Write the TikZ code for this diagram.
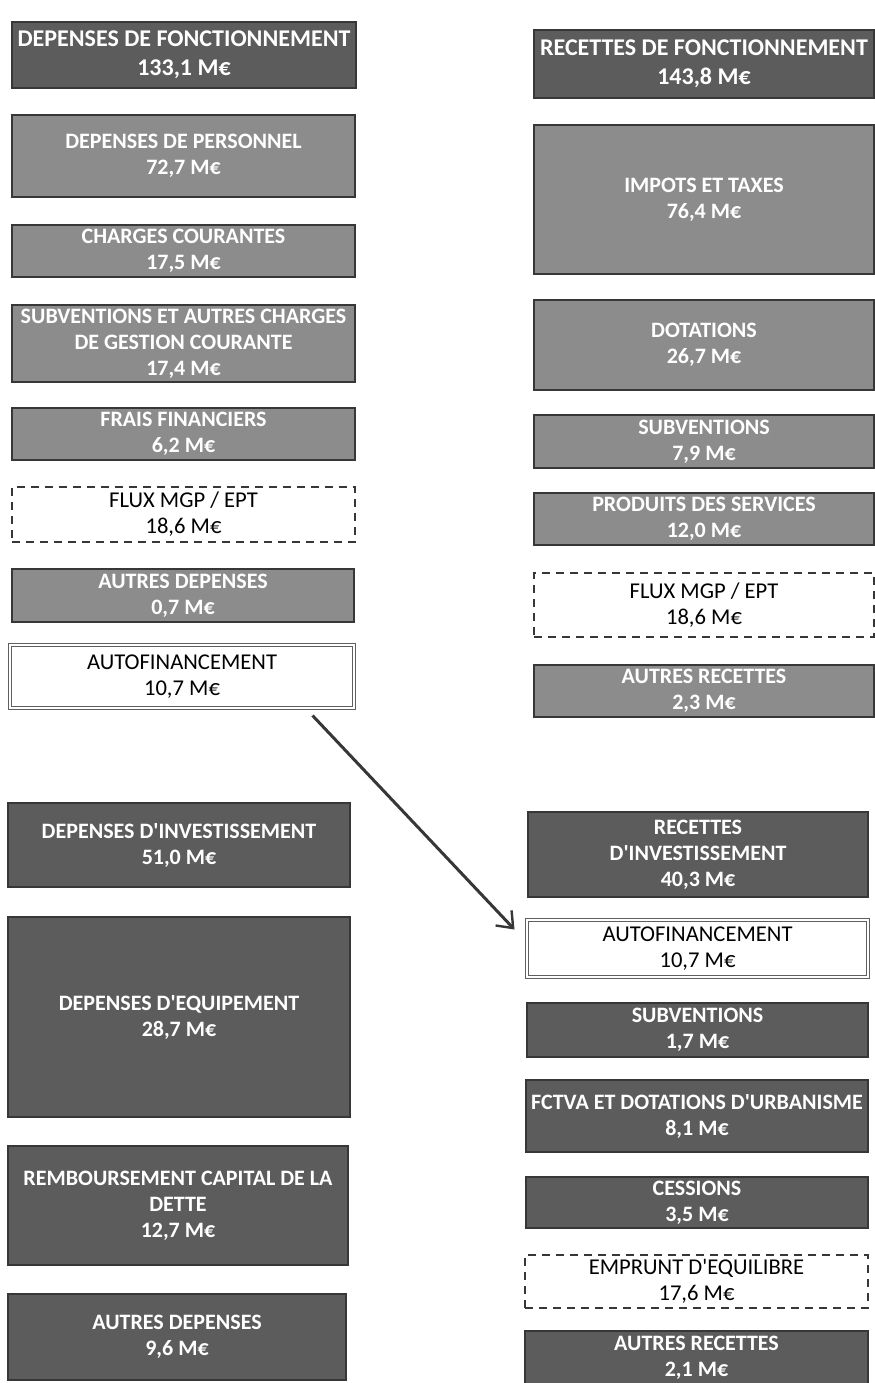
\documentclass[tikz,border=0pt]{standalone}
\usepackage{fontspec}
\setmainfont{Carlito}
\usepackage{tikz}
\usetikzlibrary{arrows.meta,positioning}
\definecolor{fonce}{RGB}{92,92,92}
\definecolor{clair}{RGB}{140,140,140}
\definecolor{trait}{RGB}{55,55,55}
\newcommand{\ap}{\textquotesingle}
\tikzset{font=\fontsize{11}{13}\selectfont}
\tikzstyle{boite}=[rectangle,draw=trait,line width=0.6pt,inner sep=0pt,align=center]
\tikzstyle{titre}=[boite,fill=fonce,text=white,font=\fontsize{12}{14.5}\selectfont\bfseries]
\tikzstyle{poste}=[boite,fill=clair,text=white,font=\fontsize{11}{13}\selectfont\bfseries]
\tikzstyle{invest}=[boite,fill=fonce,text=white,font=\fontsize{11}{13}\selectfont\bfseries]
\tikzstyle{flux}=[boite,dashed,dash pattern=on 4pt off 3pt,fill=white,font=\fontsize{11.3}{13}\selectfont]
\tikzstyle{autof}=[boite,draw=trait!80,double=white,double distance=1.4pt,line width=0.5pt,fill=white,font=\fontsize{11.3}{13}\selectfont]
\begin{document}
\begin{tikzpicture}[x=0.5pt,y=-0.5pt]
\useasboundingbox (0,0) rectangle (874,1383);
% fonctionnement : depenses
\node[titre,minimum width=172pt,minimum height=33pt] (dF) at (184,55) {DEPENSES DE FONCTIONNEMENT\\133,1 M€};
\node[poste,minimum width=171.5pt,minimum height=41pt] (dP) at (183.5,156) {DEPENSES DE PERSONNEL\\72,7 M€};
\node[poste,minimum width=171.5pt,minimum height=26pt] (dC) at (183.5,251) {CHARGES COURANTES\\17,5 M€};
\node[poste,minimum width=171.5pt,minimum height=38.5pt] (dS) at (183.5,343.5) {SUBVENTIONS ET AUTRES CHARGES\\DE GESTION COURANTE\\17,4 M€};
\node[poste,minimum width=171.5pt,minimum height=26pt] (dFF) at (183.5,434) {FRAIS FINANCIERS\\6,2 M€};
\node[flux,minimum width=171.5pt,minimum height=27.5pt] (dFlux) at (183.5,514.5) {FLUX MGP / EPT\\18,6 M€};
\node[poste,minimum width=171pt,minimum height=26.5pt] (dA) at (183,595.5) {AUTRES DEPENSES\\0,7 M€};
\node[autof,minimum width=172pt,minimum height=31.5pt] (autoF) at (182,676.5) {AUTOFINANCEMENT\\10,7 M€};
% fonctionnement : recettes
\node[titre,minimum width=170pt,minimum height=34pt] (rF) at (704,64) {RECETTES DE FONCTIONNEMENT\\143,8 M€};
\node[poste,minimum width=170pt,minimum height=74.5pt] (rI) at (704,199.5) {IMPOTS ET TAXES\\76,4 M€};
\node[poste,minimum width=170pt,minimum height=45pt] (rD) at (704,345) {DOTATIONS\\26,7 M€};
\node[poste,minimum width=170pt,minimum height=26.5pt] (rS) at (704,441.5) {SUBVENTIONS\\7,9 M€};
\node[poste,minimum width=170pt,minimum height=26pt] (rP) at (704,519) {PRODUITS DES SERVICES\\12,0 M€};
\node[flux,minimum width=170pt,minimum height=32pt] (rFlux) at (704,605) {FLUX MGP / EPT\\18,6 M€};
\node[poste,minimum width=170pt,minimum height=26pt] (rA) at (704,691) {AUTRES RECETTES\\2,3 M€};
% investissement : depenses
\node[invest,minimum width=171pt,minimum height=42pt] (iD) at (179,845) {DEPENSES D\ap INVESTISSEMENT\\51,0 M€};
\node[invest,minimum width=171pt,minimum height=100pt] (iE) at (179,1017) {DEPENSES D\ap EQUIPEMENT\\28,7 M€};
\node[invest,minimum width=170pt,minimum height=59.5pt] (iR) at (178,1205.5) {REMBOURSEMENT CAPITAL DE LA\\DETTE\\12,7 M€};
\node[invest,minimum width=169pt,minimum height=43pt] (iA) at (177,1337) {AUTRES DEPENSES\\9,6 M€};
% investissement : recettes
\node[invest,minimum width=170pt,minimum height=42.5pt] (jR) at (698,854.5) {RECETTES\\D\ap INVESTISSEMENT\\40,3 M€};
\node[autof,minimum width=170.5pt,minimum height=28.5pt] (autoI) at (697.5,948.5) {AUTOFINANCEMENT\\10,7 M€};
\node[invest,minimum width=170.5pt,minimum height=27pt] (jS) at (697.5,1030) {SUBVENTIONS\\1,7 M€};
\node[invest,minimum width=171pt,minimum height=36pt] (jF) at (697,1116) {FCTVA ET DOTATIONS D\ap URBANISME\\8,1 M€};
\node[invest,minimum width=171pt,minimum height=25.5pt] (jC) at (697,1202.5) {CESSIONS\\3,5 M€};
\node[flux,minimum width=171.5pt,minimum height=26.5pt] (jE) at (696.5,1281.5) {EMPRUNT D\ap EQUILIBRE\\17,6 M€};
\node[invest,minimum width=171.5pt,minimum height=27pt] (jA) at (696.5,1358) {AUTRES RECETTES\\2,1 M€};
% report de l'autofinancement
\draw[-{Straight Barb[length=7pt,width=11pt,line width=1.2pt]},draw=trait,line width=1.5pt]
([xshift=-21pt,yshift=-3.5pt]autoF.south east) -- ([xshift=-6pt,yshift=-5pt]autoI.north west);
\end{tikzpicture}
\end{document}
